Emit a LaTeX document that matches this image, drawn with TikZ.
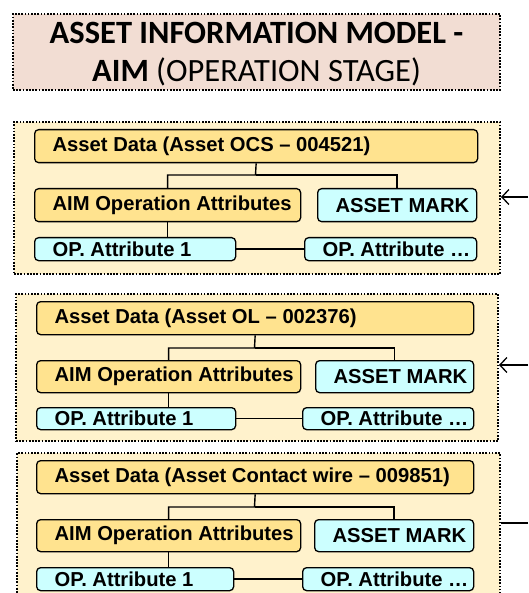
\documentclass[tikz,border=0pt]{standalone}
\usepackage{fontspec}
\setmainfont{Liberation Sans}
\newfontfamily\titlefont{Carlito}
\usetikzlibrary{arrows.meta}
\definecolor{titlefill}{HTML}{F2DDD3}
\definecolor{grpfill}{HTML}{FFF2CC}
\definecolor{goldfill}{HTML}{FFE38F}
\definecolor{cyanfill}{HTML}{CCFFFF}
\newcommand{\bx}[2]{\makebox[#1pt][l]{\hspace{18pt}#2}}
\tikzset{
  dotbox/.style={rectangle, draw, line width=2pt, dash pattern=on 1.7pt off 1.5pt,
    inner sep=0pt, anchor=north west},
  titlebox/.style={dotbox, fill=titlefill, align=center, text depth=0pt,
    font=\titlefont\fontsize{32.5}{38}\selectfont},
  grpbox/.style={dotbox, fill=grpfill},
  rbox/.style={rectangle, draw, line width=1.3pt, rounded corners=4pt, inner sep=0pt,
    anchor=north west, font=\bfseries\fontsize{20.2}{22}\selectfont},
  goldbox/.style={rbox, fill=goldfill},
  cyanbox/.style={rbox, fill=cyanfill},
  conn/.style={line width=1.4pt},
  inarrow/.style={line width=1.4pt, -{Straight Barb[length=7pt,width=15pt,line width=1.3pt]}},
}
\begin{document}
\begin{tikzpicture}[x=1pt,y=-1pt]
\useasboundingbox (0,0) rectangle (528,593);
\clip (0,0) rectangle (528,593);

% title
\node[titlebox, minimum width=487pt, minimum height=76pt] (title) at (12,13)
  {\textbf{ASSET INFORMATION MODEL -}\\\textbf{AIM} (OPERATION STAGE)};

% ---------- group 1 ----------
\node[grpbox, minimum width=486pt, minimum height=152pt] (g1) at (13,121) {};
\node[goldbox, minimum height=33pt] (ad1) at (34,129) {\bx{443}{Asset Data (Asset OCS – 004521)}};
\node[goldbox, minimum height=33pt] (aim1) at (34,188) {\bx{266}{AIM Operation Attributes}};
\node[cyanbox, minimum height=33pt] (am1) at (317,188) {\bx{159}{ASSET MARK}};
\node[cyanbox, minimum height=23pt] (opa1) at (34,237) {\bx{201}{OP. Attribute 1}};
\node[cyanbox, minimum height=23pt] (opb1) at (304,237) {\bx{172}{OP. Attribute …}};
\coordinate (bus1) at (255.5,175);
\draw[conn] (ad1.south) -- (bus1) -| (aim1.north);
\draw[conn] (bus1) -| (am1.north);
\draw[conn] (aim1.south) -- (aim1.south |- opa1.north);
\draw[conn] (opa1.east) -- (opb1.west);
\coordinate (in1) at (528,197);
\draw[inarrow] (in1) -- (in1 -| g1.east);

% ---------- group 2 ----------
\node[grpbox, minimum width=482pt, minimum height=147pt] (g2) at (15,293) {};
\node[goldbox, minimum height=33pt] (ad2) at (36,301) {\bx{437}{Asset Data (Asset OL – 002376)}};
\node[goldbox, minimum height=32pt] (aim2) at (36,360) {\bx{264}{AIM Operation Attributes}};
\node[cyanbox, minimum height=32pt] (am2) at (315,360) {\bx{158}{ASSET MARK}};
\node[cyanbox, minimum height=22pt] (opa2) at (36,407) {\bx{199}{OP. Attribute 1}};
\node[cyanbox, minimum height=22pt] (opb2) at (302,407) {\bx{171}{OP. Attribute …}};
\coordinate (bus2) at (254.5,348);
\draw[conn] (ad2.south) -- (bus2) -| (aim2.north);
\draw[conn] (bus2) -| (am2.north);
\draw[conn] (aim2.south) -- (aim2.south |- opa2.north);
\draw[conn] (opa2.east) -- (opb2.west);
\coordinate (in2) at (528,365);
\draw[inarrow] (in2) -- (in2 -| g2.east);

% ---------- group 3 ----------
\node[grpbox, minimum width=483pt, minimum height=160pt] (g3) at (16,452) {};
\node[goldbox, minimum height=33pt] (ad3) at (36,460) {\bx{437}{Asset Data (Asset Contact wire – 009851)}};
\node[goldbox, minimum height=32pt] (aim3) at (36,519) {\bx{264}{AIM Operation Attributes}};
\node[cyanbox, minimum height=32pt] (am3) at (314,519) {\bx{159}{ASSET MARK}};
\node[cyanbox, minimum height=23pt] (opa3) at (36,567) {\bx{197}{OP. Attribute 1}};
\node[cyanbox, minimum height=23pt] (opb3) at (302,567) {\bx{171}{OP. Attribute …}};
\coordinate (bus3) at (254.5,507);
\draw[conn] (ad3.south) -- (bus3) -| (aim3.north);
\draw[conn] (bus3) -| (am3.north);
\draw[conn] (aim3.south) -- (aim3.south |- opa3.north);
\draw[conn] (opa3.east) -- (opb3.west);
\coordinate (in3) at (528,523);
\draw[conn] (in3) -- (in3 -| g3.east);
\end{tikzpicture}
\end{document}
